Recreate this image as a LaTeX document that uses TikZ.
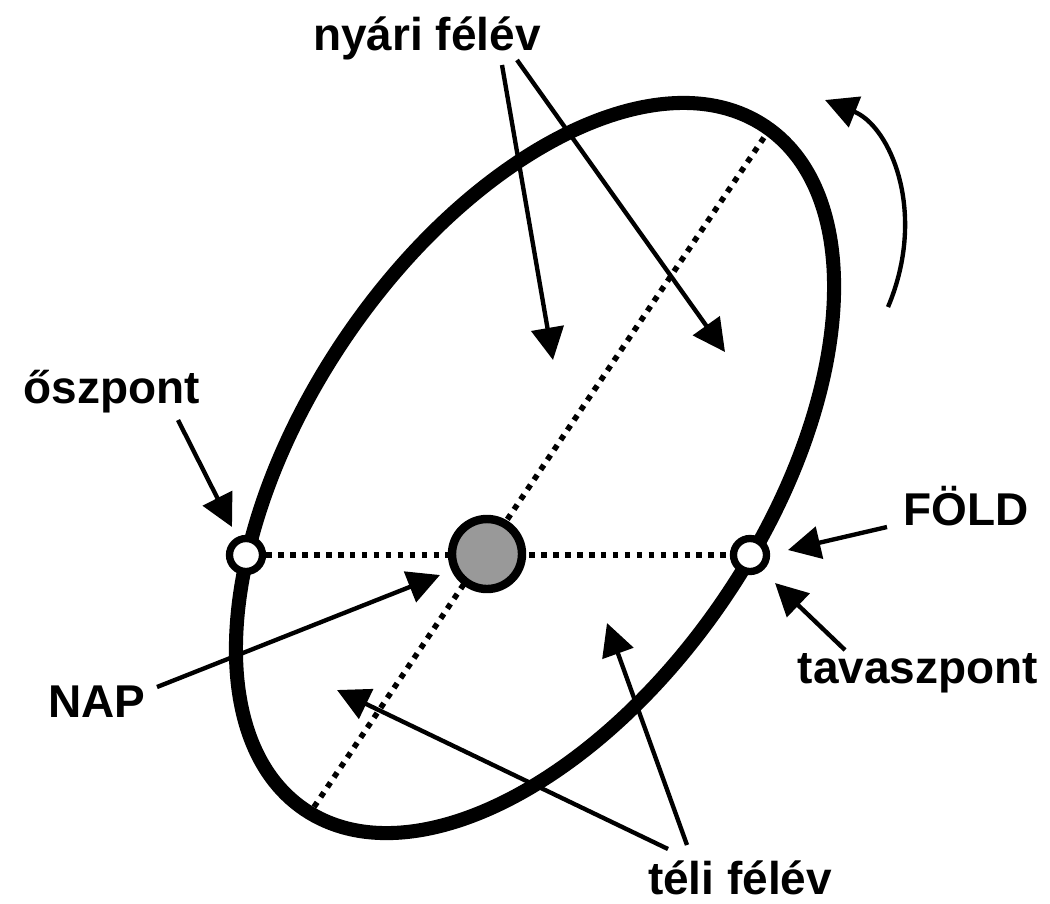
\documentclass[tikz,border=0pt]{standalone}
\usepackage{fontspec}
\setmainfont{Liberation Sans}
\usetikzlibrary{arrows.meta}

\begin{document}
\begin{tikzpicture}[x=0.025cm,y=-0.025cm,
    lbl/.style={font=\fontsize{32.7}{39}\selectfont\bfseries,inner sep=0pt,anchor=base},
    ptr/.style={line width=3.1pt,-{Triangle[length=23pt,width=23pt]}},
    dotline/.style={line width=4pt,dash pattern=on 4pt off 4.5pt},
    equi/.style={circle,draw,fill=white,line width=5.2pt,minimum size=0.825cm,inner sep=0pt}]
    \useasboundingbox (0,0) rectangle (1050,903);
    \draw[line width=10pt,rotate around={56:(535,468)}] (535,468) ellipse (412 and 230);
    \node[equi] (osz) at (246,555) {};
    \node[equi] (fold) at (750,555) {};
    \coordinate (axtop) at (767,133);
    \coordinate (axbot) at (314,807);
    \draw[dotline] (osz) -- (fold);
    \draw[dotline] (axbot) -- (axtop);
    \node[circle,draw,fill=black!40,line width=6pt,minimum size=1.75cm] (nap) at (487,554) {};
    \node[lbl] (nyari) at (427,50) {nyári félév};
    \node[lbl] (oszlbl) at (112,403) {őszpont};
    \node[lbl] (foldlbl) at (966,525) {FÖLD};
    \node[lbl] (tavasz) at (918,683) {tavaszpont};
    \node[lbl] (naplbl) at (97,717) {NAP};
    \node[lbl] (teli) at (740,894) {téli félév};
    \coordinate (ny1) at (502,65);   \coordinate (nyt1) at (553,360);
    \coordinate (ny2) at (517,60);   \coordinate (nyt2) at (725,352);
    \coordinate (os1) at (178,420);  \coordinate (ost) at (232,527);
    \coordinate (fo1) at (887,527);  \coordinate (fot) at (788,550);
    \coordinate (ta1) at (845,650);  \coordinate (tat) at (775,583);
    \coordinate (na1) at (157,687);  \coordinate (nat) at (440,575);
    \coordinate (te1) at (668,849);  \coordinate (tet1) at (337,690);
    \coordinate (te2) at (687,845);  \coordinate (tet2) at (607,623);
    \coordinate (rot1) at (888,307); \coordinate (rot2) at (825,100);
    \draw[ptr] (ny1) -- (nyt1);
    \draw[ptr] (ny2) -- (nyt2);
    \draw[ptr] (os1) -- (ost);
    \draw[ptr] (fo1) -- (fot);
    \draw[ptr] (ta1) -- (tat);
    \draw[ptr] (na1) -- (nat);
    \draw[ptr] (te1) -- (tet1);
    \draw[ptr] (te2) -- (tet2);
    \draw[ptr] (rot1) .. controls (928,212) and (890,126) .. (rot2);
\end{tikzpicture}
\end{document}
